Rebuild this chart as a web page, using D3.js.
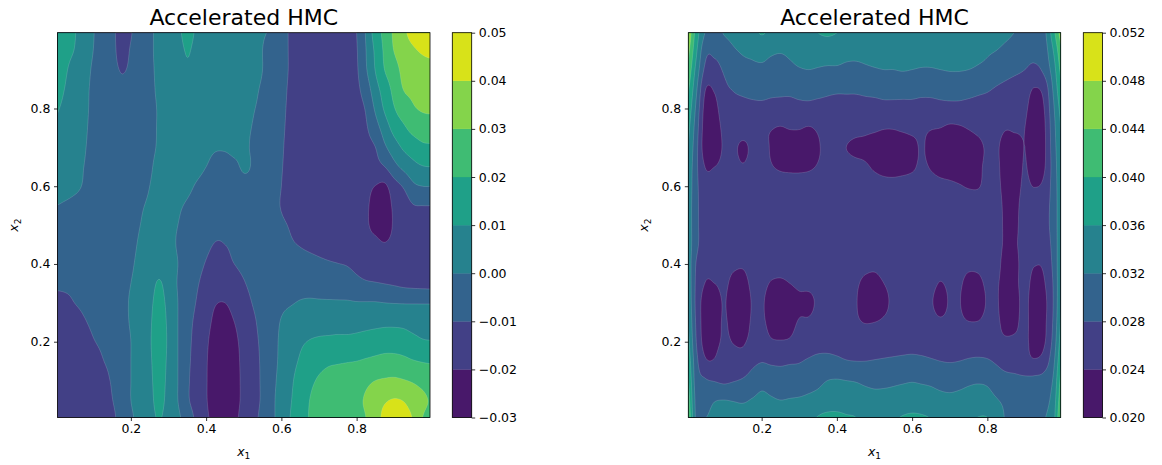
<!DOCTYPE html>
<html>
<head>
<meta charset="utf-8">
<script src="https://cdn.jsdelivr.net/npm/d3@7"></script>
<style>
  body { margin: 0; background: #fff; }
  text { font-family: "DejaVu Sans", sans-serif; }
</style>
</head>
<body>
<div id="chart"></div>
<script>
// grid values are stored in units of 1e-3
var zUnit = 0.001;

// grid columns (x1) and rows (x2, top row first)
var x1Grid = d3.range(41).map(function (i) { return i * 0.025; });
var x2Grid = d3.range(21).map(function (i) { return 1 - i * 0.05; });

var leftLevels = [-30, -20, -10, 0, 10, 20, 30, 40, 50];
var rightLevels = [20, 24, 28, 32, 36, 40, 44, 48, 52];
var axisTicks = [0.2, 0.4, 0.6, 0.8];

var leftZ = [
  [16.5,14,10.6,6,0.5,-4,-8,-13,-10.5,-6,-1.5,2,5,8.5,12,9,6,5,4,3,2,1,0.3,-1,-7,-11,-14,-15,-15,-14.5,-13,-11.5,-10,1,15,23,32,38.5,43,45,46],
  [15,12.5,9.8,4.5,0,-4,-8,-12,-9.5,-6,-1.5,2,4.5,7.5,10.5,8,5.5,4.5,3.5,2.5,1.5,0.8,0,-2,-7,-11,-14,-15.5,-15.5,-15,-14,-12,-10.5,0,12,22,30.5,36,39,41,42],
  [13.5,11,7,3,-1,-4.5,-8,-10.3,-9,-5.5,-1.5,1.5,4,6.5,9,7.5,5.5,4.5,3.5,2.5,1.5,0.8,0,-2.5,-7,-11,-14,-16,-16,-15.5,-14.5,-13,-11,-1,10.5,20.3,26,33,35.5,37,37.5],
  [12,9.8,5.5,2,-1.5,-5,-7.5,-9,-8,-5,-1.5,1,3,5,6,6,5,4,3,2,1.2,0.5,-0.5,-3,-7.5,-11.5,-14.5,-16,-16.5,-16,-15,-14,-12,-5,6,15,23,30.3,32,34,34.5],
  [10.6,8.5,4.5,1.5,-1.5,-5,-7,-8,-7,-4.5,-1.5,0.5,2.5,4,5,5,4.5,3.5,2.5,1.5,1,0.2,-1,-4,-8,-12,-15,-16.5,-17,-17,-16,-15,-13.5,-9,1.5,11.5,19.5,25,29,31,31.5],
  [9.3,6.8,4,1,-1.5,-4.5,-6.5,-7,-6,-4,-1.5,0.5,2,3.5,4.5,4.5,4,3,2,1.2,0.5,-0.2,-2,-5,-8.5,-12.5,-15.5,-17,-17.5,-17.5,-17,-16,-15,-11,-4,5,13.5,18.5,23,25,25.5],
  [8,5.5,3,0.5,-1.5,-4,-5.5,-6,-5,-3,-1,0.5,2,3,3.5,3,1.5,0.5,0.5,1,0.5,-0.5,-2.5,-5.5,-9,-13,-16,-17.5,-18,-18,-18,-17.5,-16.5,-13,-10,-1.5,5.5,11.5,15,18,18.5],
  [7,4.5,2,0,-1.5,-3.5,-4.5,-5,-4,-2,-0.5,1,2,2.5,2.5,1.5,0,-1.5,-2,-1,0.5,-0.5,-3,-6,-9.5,-13,-16,-18,-18.5,-18.5,-18.5,-18.5,-18,-15.5,-13,-10,-3,2.5,7,9.5,10],
  [5.5,3.5,1.5,-0.5,-2,-3.5,-4,-4,-3,-1.5,0,1,1.5,1.5,1,-0.5,-2,-3.5,-4,-3,-1.5,-1.5,-3.5,-6.5,-10,-13.5,-16.5,-18.5,-19,-19,-19,-19,-19,-18,-20.2,-21.5,-14,-9,-2,0,0],
  [0,-1,-2,-2.5,-3,-3.5,-3.5,-3,-2,-0.5,0.5,1,1,0.5,-0.5,-2,-4,-5.5,-6,-5,-3.5,-3,-4.5,-7,-10.5,-14,-17,-18.5,-19,-19,-19,-19,-19.5,-19,-23,-25,-18,-15,-10.5,-10,-10],
  [-2,-3,-3.5,-4,-4,-4,-3.5,-3,-1.5,0,1,1.5,1,0,-1.5,-3.5,-6,-8,-8.5,-7.5,-6,-5,-5,-6.5,-8.5,-11,-14,-16,-17.5,-18,-18.5,-18.5,-19.5,-19.5,-21.5,-24,-19,-17,-15,-14,-13.5],
  [-4,-5,-5.5,-5.5,-5,-4.5,-3.5,-2.5,-1,0.5,1.5,2,1.5,-0.5,-3,-5.5,-8.5,-10.3,-10,-9,-7.5,-6,-5.5,-6,-7,-9,-10.5,-12,-13.5,-15,-16,-16.5,-18.5,-18.5,-18.5,-19.5,-18,-16.5,-15.5,-14.5,-14],
  [-6,-6.5,-7,-6.5,-6,-5,-3.5,-2,-0.5,1,3,5.5,3,0,-3.5,-7,-10.5,-12,-11.5,-10,-8.5,-7,-6,-5.5,-5.5,-6,-6.5,-7,-8,-9,-9.8,-10.5,-12,-13.5,-15,-16,-16,-15.5,-15,-14.5,-14],
  [-9,-9,-9,-8,-7,-5.5,-3.5,-1.5,0,1.5,5.5,11,5,-0.5,-5,-9,-13,-15,-14.5,-13,-10.5,-8,-5.5,-4,-3,-2.5,-2.5,-3,-4,-5,-6,-7,-8,-9,-9.5,-10.2,-11,-12,-12.5,-12.8,-13],
  [-11.5,-11,-10,-9,-8,-7,-4,-1.5,0.5,2.5,7.5,13.5,7,0,-6,-10.5,-15.5,-19.5,-20,-17,-13,-9.5,-6,-3.5,-1.5,-0.5,0.5,1,1,1,1,1,0.5,0.5,0.5,0,-0.3,-0.5,-0.5,-0.5,-0.5],
  [-13,-12.5,-12,-10.5,-9,-7.5,-5,-2,0.5,3,8.5,15,8,0,-7,-12,-17,-22,-23,-20,-15.5,-11.5,-7,-3,0.5,3,4.5,5.5,6,6,6,6,6.5,7,7.5,8,8,7.5,6,5,4.5],
  [-14,-13.5,-13,-12,-10.3,-9,-6.5,-3.5,0,3.5,9,15,8.5,0,-7.5,-13,-18.5,-24,-25.5,-22,-17,-12.5,-8,-3,1.5,5.5,8.5,10.5,11.5,12,12.5,12.5,13,14,15,15.5,15.5,15,13,11,10.5],
  [-14.5,-14,-13.5,-12.5,-11.5,-10.2,-8.5,-4.5,0,3.5,8.5,14.5,8,0,-8,-13.5,-19.2,-25,-26,-23,-17.5,-13,-8.5,-3,2,7,11,15,17,18.5,19,19.5,20,21,22,23,23,22,20.5,19.5,19],
  [-15,-14.5,-14,-13,-12,-11,-9.5,-5.5,0,3.5,8,13.5,7.5,0,-8.5,-14,-19.3,-26,-26.5,-23,-18,-13.5,-8.5,-2.5,3,8.5,13.5,18,21,23,24.5,25.5,26.5,28,30,31,31.5,30.5,29,27,25],
  [-15,-14.5,-14,-13,-12,-11.2,-10.2,-6,0,3.5,7.5,12.5,7,0,-8.5,-14,-19.2,-26.5,-27,-23,-18,-13.5,-8.5,-2,4,9.5,15,20,23,25,26,27,28.5,31,36,39,40.5,39.5,36,32,29],
  [-15,-14.5,-14,-13,-12.5,-12,-11.5,-7,-1.5,3,7,10.5,6.5,2,-5,-12,-18,-24,-26,-22,-17,-12.5,-7.5,-2,4.5,10.5,16,20.5,22.5,24,25,26,28,30,37,42,44,43,39.5,30,27]
];

var rightZ = [
  [48.8,38.8,32,30.4,32.4,33.2,33.6,34.8,36.6,35.2,34,33.6,34,34.4,36.2,36.8,36.2,35.2,34.4,34,34,34.2,34.8,35.6,35.4,34.8,34.4,34.8,35.6,35.8,35.2,34.4,34,33.6,32.8,32,31.6,30.4,30.8,38.4,47.2],
  [46.4,37.2,29.2,28.8,30,31.6,32.4,32.6,32.8,32.4,32.2,32.4,32.8,33,33.2,33.4,33.2,32.8,32.6,32.6,32.8,33,33.2,33.4,33.2,33,33,33.2,33.4,33.4,33.2,32.8,32.4,32,31.2,30.4,29.6,29.2,30,36,44],
  [44,35.2,27.2,26.8,28.4,29.6,30.8,31.4,31.6,31.4,31.2,31.4,31.8,32,31.8,31.6,31.6,31.4,31.4,31.6,31.8,32,32,32.2,32,31.8,31.8,32,32.2,32.2,32,31.6,31.2,30.4,29.6,28.8,28,27.2,28.8,34,42],
  [41.6,33.2,24.2,24.4,27.2,28.2,28.8,29.2,29.4,29,28.8,28.8,29.2,29.4,29.2,28.8,28.6,28.6,28.6,28.8,29,29.2,29.2,29.2,29.2,29,29,29.2,29.4,29.4,29.2,28.8,28.4,27.6,26.8,26,25.6,23.8,25.2,32.4,40],
  [39.6,31.6,22.8,23,26,26.6,26.8,27,27,26.8,26.8,26.8,27,27,26.8,26.8,26.6,26.6,26.6,26.8,26.8,27,27,27,27,26.8,26.8,27,27,27,26.8,26.6,26.4,26,25.6,25.2,24.6,22.4,23.8,31.2,38],
  [38,30.4,22.2,22.4,24.8,25.2,25.2,25,24.6,24.2,23.8,24.2,24.2,23.8,24.4,25,25.2,25.2,25,24.8,24.6,24.2,24.2,24.6,24.8,24.6,24.2,24,23.4,23.6,24.2,24.8,25.2,25,24.2,24.4,24,22,23.2,30.4,36.8],
  [36.8,29.6,22,22.2,24.4,24.4,23.6,24.4,24.6,23.8,22.4,22.2,22.4,22.4,23.8,24.4,24.6,24,23.4,23.2,22.4,22,22,22.2,23.2,24.2,23.2,22.2,21.8,22,22.4,23.2,24.4,24.4,22.6,22.8,24,21.8,23,30,36],
  [36,29.2,23.9,24,24.8,24.8,24.2,24.8,25,24.2,23.6,23.4,23.4,23.6,24.2,24.8,25,25,24.8,24.4,23.6,23,22.8,23,23.6,24.4,23.8,23,22.6,22.6,22.8,23.4,24.6,24.6,22.4,22.6,24.2,22.4,23.4,29.6,35.6],
  [35.6,29.2,25.6,25.6,25.6,25.6,25.6,25.6,25.6,25.6,25.4,25.4,25.4,25.4,25.6,25.6,25.6,25.6,25.6,25.4,25.2,25,25,25.2,25.2,25.2,25,24.8,24.6,24.2,23.8,23.8,24.8,24.8,22.8,23,24.6,23.9,24.8,29.6,35.2],
  [35.2,29.2,26,26,26,26,26,26,26,26,26,26,26,26,26,26,26,26,26,26,25.8,25.8,25.8,25.8,25.8,25.8,25.8,25.8,25.8,25.8,25.6,25.6,25.4,25.2,23.2,23.4,25.2,25.6,26.2,29.6,35.2],
  [35.2,29.2,26.2,26.2,26.2,26.2,26.2,26.2,26.2,26.2,26.2,26.2,26.2,26.2,26.2,26.2,26.2,26.2,26.2,26.2,26,26,26,26,26,26,26,26,26,26,25.8,25.8,25.6,25.2,23.4,23.6,25.2,25.8,26.4,29.6,35.2],
  [35.2,29.2,26,26,26,26,26,26,26,26,26,26,26,26,26,26,26,26,26,26,26,26,26,26,26,26,26,25.8,25.8,25.8,25.6,25.6,25.4,24.8,23.6,23.8,25,25.6,25.8,29.2,35.6],
  [35.6,28,25.2,25.2,25.2,24.6,24.4,25.2,25.4,25.2,25,25.2,25.4,25.4,25.4,25.4,25.4,25.4,25.2,24.8,24.6,25,25.2,25.4,25.4,25.4,25.2,25,25,25,24.6,24.6,25,24.6,23.2,23.4,25.2,24.2,24.6,28.8,36],
  [36,27.6,23.9,24,24.6,23.2,23,24.6,24.8,23.8,23.6,24,24.4,24.6,24.8,25,24.8,24.8,24.4,23.4,23.2,24,24.6,24.8,24.8,24.8,24.6,23.9,24.4,24.4,23.2,23.4,24.4,24.2,23.2,23.4,25.2,22.8,23.6,28.2,36.4],
  [36.4,27.4,22.2,22.4,24.2,22.2,22,24.2,24.4,22.6,22.2,23,23.6,23.4,24.4,24.6,24.6,24.4,24.2,22.4,22,23.4,24.4,24.6,24.6,24.4,24.2,23.2,24.2,24.2,22.4,22.8,24.2,24.2,22.8,23,25,21.8,22.8,28,36.8],
  [37.2,27.8,22,22.2,24.4,22.6,22.4,24.4,24.6,23,22.6,23.2,24.2,24.4,25,25.2,25,24.8,24.4,23.9,24,24.4,24.8,25.2,25.2,25,24.8,24.4,24.6,24.6,24.1,24.1,24.6,24.4,23.2,23.4,25,22,23,28.4,37.6],
  [38.4,28.4,22.4,22.6,24.8,23.8,23.6,25,25.6,24.4,24.2,24.4,25.4,26,26.4,26.4,26.2,25.8,25.6,25.6,25.8,26,26.2,26.4,26.4,26.2,26,25.8,25.6,25.6,25.8,25.8,25.4,24.8,24.4,24.6,24.8,22.6,23.4,29.2,38.8],
  [40,29.6,24.6,24.4,27,25.6,25.4,27,27.8,27.4,27.4,27.6,27.8,28.4,29,29.2,28.8,28.2,28,28,28.2,28.4,28.6,28.8,29,28.8,28.4,28,27.8,28,28.4,28.6,28.4,27.4,26,26,25.2,24.4,25.6,30.8,40.4],
  [42,30.4,28.4,27.8,27.4,27.8,28.4,29.6,30.8,30.2,29.4,29.6,29.6,30.4,31.2,32,32.2,32,31.8,31.4,31.2,31.2,31.4,31.6,31.8,31.6,31.4,31,30.8,31,31.4,31.6,31.4,30.4,29.6,29,28.8,29,29.6,32.4,42.4],
  [44,31.2,30.8,31.8,32,31.8,31.6,32.2,32.8,32.4,32,32.2,32.4,32.8,33.2,33.6,33.8,33.6,33.4,33,32.8,33,33.2,33.6,33.8,33.6,33.2,32.8,32.6,32.8,33.2,33.6,33.2,32.2,31.2,30.4,30.2,30.4,31,33.6,44],
  [46,31.6,32,32.6,33,33.2,33.4,33.6,33.8,34,34,34.2,34.4,35.2,36.4,37.2,37.2,36.6,36.2,34.4,34.2,34.8,35.6,36.4,36.8,36.6,36,34.8,34,34.2,35.2,36.2,36.2,34.4,31.6,31.2,31,31.2,31.8,34.4,46]
];

var panels = [
  { title: "Accelerated HMC", z: leftZ, levels: leftLevels, fmt: d3.format(".2f"),
    x0: 57.5, w: 372.5, cbX: 452.3, cbW: 19.4 },
  { title: "Accelerated HMC", z: rightZ, levels: rightLevels, fmt: d3.format(".3f"),
    x0: 688.3, w: 372.4, cbX: 1083.3, cbW: 19.2 }
];
var plotTop = 32.7, plotH = 384.8;

var svg = d3.select("#chart").append("svg")
  .attr("width", 1162)
  .attr("height", 465);

// Catmull-Rom resampling of the read grid, only used for drawing smooth bands
function cubic(p0, p1, p2, p3, t) {
  return p1 + 0.5 * t * (p2 - p0 + t * (2 * p0 - 5 * p1 + 4 * p2 - p3 + t * (3 * (p1 - p2) + p3 - p0)));
}
function resample(z, nx, ny) {
  var nr = z.length, nc = z[0].length;
  var clampR = function (r) { return Math.max(0, Math.min(nr - 1, r)); };
  var clampC = function (c) { return Math.max(0, Math.min(nc - 1, c)); };
  var rows = z.map(function (row) {
    return d3.range(nx).map(function (i) {
      var u = i / (nx - 1) * (nc - 1);
      var c = Math.min(Math.floor(u), nc - 2), t = u - c;
      return cubic(row[clampC(c - 1)], row[c], row[c + 1], row[clampC(c + 2)], t);
    });
  });
  var out = new Float64Array(nx * ny);
  for (var j = 0; j < ny; j++) {
    var v = j / (ny - 1) * (nr - 1);
    var r = Math.min(Math.floor(v), nr - 2), t = v - r;
    for (var i = 0; i < nx; i++) {
      out[j * nx + i] = cubic(rows[clampR(r - 1)][i], rows[r][i], rows[r + 1][i], rows[clampR(r + 2)][i], t);
    }
  }
  return out;
}

panels.forEach(function (p, pi) {
  var x = d3.scaleLinear().domain([0.005, 0.995]).range([p.x0, p.x0 + p.w]);
  var y = d3.scaleLinear().domain([0.005, 0.995]).range([plotTop + plotH, plotTop]);
  var nBands = p.levels.length - 1;
  var color = function (k) { return d3.interpolateViridis((k + 0.5) / nBands); };

  var nx = 380, ny = 390;
  var lo = p.levels[0], hi = p.levels[nBands];
  var fine = resample(p.z, nx, ny).map(function (v) {
    return Math.max(lo + 0.01, Math.min(hi - 0.01, v));
  });
  var contours = d3.contours().size([nx, ny]).thresholds(p.levels.slice(1, -1))(fine);

  var proj = d3.geoTransform({
    point: function (px, py) {
      this.stream.point(x((px - 0.5) / (nx - 1)), y(1 - (py - 0.5) / (ny - 1)));
    }
  });
  var path = d3.geoPath(proj);

  svg.append("clipPath").attr("id", "clip" + pi)
    .append("rect")
    .attr("x", p.x0).attr("y", plotTop)
    .attr("width", p.w).attr("height", plotH);

  var g = svg.append("g").attr("clip-path", "url(#clip" + pi + ")");
  g.append("rect")
    .attr("x", p.x0).attr("y", plotTop)
    .attr("width", p.w).attr("height", plotH)
    .attr("fill", color(0));
  g.selectAll("path")
    .data(contours)
    .enter().append("path")
    .attr("d", path)
    .attr("fill", function (d, i) { return color(i + 1); })
    .attr("stroke", "rgba(255,255,255,0.3)")
    .attr("stroke-width", 0.5);

  // axes
  var xAxis = d3.axisBottom(x).tickValues(axisTicks).tickSize(3.5).tickPadding(3.5)
    .tickFormat(d3.format(".1f"));
  var yAxis = d3.axisLeft(y).tickValues(axisTicks).tickSize(3.5).tickPadding(3.5)
    .tickFormat(d3.format(".1f"));
  var gx = svg.append("g").attr("transform", "translate(0," + (plotTop + plotH) + ")").call(xAxis);
  var gy = svg.append("g").attr("transform", "translate(" + p.x0 + ",0)").call(yAxis);
  [gx, gy].forEach(function (a) {
    a.select(".domain").remove();
    a.selectAll("line").attr("stroke", "#000").attr("stroke-width", 0.8);
    a.selectAll("text").attr("font-size", "12.5px").attr("fill", "#000")
      .style("font-family", "'DejaVu Sans', sans-serif");
  });

  svg.append("rect")
    .attr("x", p.x0).attr("y", plotTop)
    .attr("width", p.w).attr("height", plotH)
    .attr("fill", "none").attr("stroke", "#000").attr("stroke-width", 0.8);

  svg.append("text")
    .attr("x", p.x0 + p.w / 2).attr("y", 25)
    .attr("text-anchor", "middle")
    .attr("font-size", "22px")
    .text(p.title);

  var xl = svg.append("text")
    .attr("x", p.x0 + p.w / 2).attr("y", 456)
    .attr("text-anchor", "middle").attr("font-size", "12.5px");
  xl.append("tspan").attr("font-style", "italic").text("x");
  xl.append("tspan").attr("font-size", "9px").attr("dy", 3).text("1");

  var yl = svg.append("text")
    .attr("transform", "translate(" + (p.x0 - 40) + "," + (plotTop + plotH / 2) + ") rotate(-90)")
    .attr("text-anchor", "middle").attr("font-size", "12.5px");
  yl.append("tspan").attr("font-style", "italic").text("x");
  yl.append("tspan").attr("font-size", "9px").attr("dy", 3).text("2");

  // colorbar
  var cb = d3.scaleLinear().domain([lo, hi]).range([plotTop + plotH, plotTop]);
  svg.selectAll(".band" + pi)
    .data(d3.range(nBands))
    .enter().append("rect")
    .attr("class", "band" + pi)
    .attr("x", p.cbX)
    .attr("y", function (k) { return cb(p.levels[k + 1]); })
    .attr("width", p.cbW)
    .attr("height", function (k) { return cb(p.levels[k]) - cb(p.levels[k + 1]); })
    .attr("fill", function (k) { return color(k); })
    .attr("stroke", function (k) { return color(k); })
    .attr("stroke-width", 0.3);
  svg.append("rect")
    .attr("x", p.cbX).attr("y", plotTop)
    .attr("width", p.cbW).attr("height", plotH)
    .attr("fill", "none").attr("stroke", "#000").attr("stroke-width", 0.8);
  var cAxis = d3.axisRight(cb).tickValues(p.levels).tickSize(3.5).tickPadding(3.5)
    .tickFormat(function (d) { return p.fmt(d * zUnit); });
  var gc = svg.append("g").attr("transform", "translate(" + (p.cbX + p.cbW) + ",0)").call(cAxis);
  gc.select(".domain").remove();
  gc.selectAll("line").attr("stroke", "#000").attr("stroke-width", 0.8);
  gc.selectAll("text").attr("font-size", "12.5px").attr("fill", "#000")
    .style("font-family", "'DejaVu Sans', sans-serif");
});
</script>
</body>
</html>
